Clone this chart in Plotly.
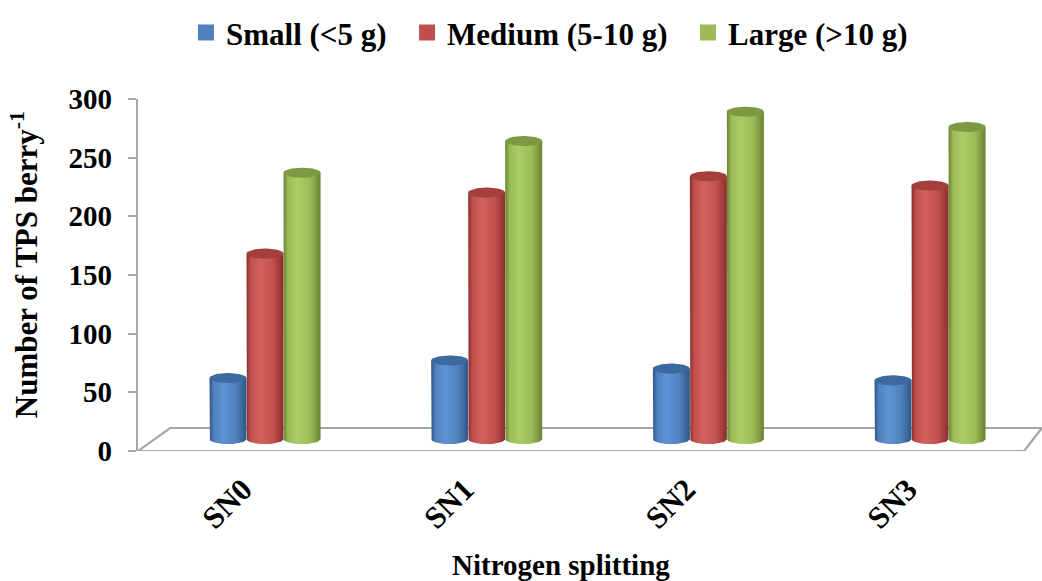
import numpy as np
import plotly.graph_objects as go

# ---- data ----
categories = ["SN0", "SN1", "SN2", "SN3"]
series_names = ["Small (<5 g)", "Medium (5-10 g)", "Large (>10 g)"]
small = [52, 67, 60, 50]
medium = [158, 210, 224, 216]
large = [227, 254, 279, 266]
y_ticks = [0, 50, 100, 150, 200, 250, 300]

series_values = [small, medium, large]

# ---- styling ----
FONT = "Liberation Serif"
base_cols = ["#4f81bd", "#c0504d", "#9bbb59"]
light_cols = ["#5e93d6", "#d2625e", "#abcd65"]
dark_cols = ["#2f5684", "#8a2f2d", "#67832f"]
cap_cols = ["#3c6aa0", "#a43f3c", "#7c9a42"]
AXIS_GREY = "#a6a6a6"

bar_w = 0.167          # width of one cylinder (x units)
cap_h = 4.3            # half-height of the elliptical caps (y units)
floor_mid = 10.2       # cylinders stand in the middle of the 3-D floor
floor_depth = 19.6     # y-offset of the back edge of the floor
x_lo, x_hi = -0.573, 3.505

fig = go.Figure()

# 3-D floor outline
fx = [x_lo, 3.424, x_hi, -0.428, x_lo]
fy = [0, 0, floor_depth, floor_depth, 0]
fig.add_trace(go.Scatter(x=fx, y=fy, mode="lines",
                         line=dict(color=AXIS_GREY, width=2.2),
                         hoverinfo="skip", showlegend=False))

t = np.linspace(0, np.pi, 30)
tt = np.linspace(0, 2 * np.pi, 60)
offsets = [-bar_w, 0.0, bar_w]
for s, vals in enumerate(series_values):
    scale = [[0, dark_cols[s]], [0.12, base_cols[s]], [0.38, light_cols[s]],
             [0.72, base_cols[s]], [1, dark_cols[s]]]
    for i, v in enumerate(vals):
        xc = i + offsets[s]
        xl, xr = xc - bar_w / 2, xc + bar_w / 2
        top = floor_mid + v
        # body: left side down, lower half-ellipse at the base, right side up
        bx = np.concatenate([[xl], xc - (bar_w / 2) * np.cos(t), [xr, xl]])
        by = np.concatenate([[top], floor_mid - cap_h * np.sin(t), [top, top]])
        fig.add_trace(go.Scatter(
            x=bx, y=by, mode="lines", fill="toself", line=dict(width=0),
            fillcolor=base_cols[s],
            fillgradient=dict(type="horizontal", colorscale=scale),
            hoverinfo="skip", showlegend=False))
        # top cap
        cx = xc + (bar_w / 2) * np.cos(tt)
        cy = top + cap_h * np.sin(tt)
        fig.add_trace(go.Scatter(
            x=cx, y=cy, mode="lines", fill="toself", line=dict(width=0),
            fillcolor=cap_cols[s], hoverinfo="skip", showlegend=False))

# legend entries (square swatches)
for s, name in enumerate(series_names):
    fig.add_trace(go.Scatter(x=[None], y=[None], mode="markers",
                             name=name + "\u00a0\u00a0",
                             marker=dict(symbol="square", size=16,
                                         color=base_cols[s])))

fig.update_layout(
    width=1042, height=581,
    margin=dict(l=138, r=0, t=99, b=130),
    paper_bgcolor="white", plot_bgcolor="white",
    font=dict(family=FONT, color="black", weight="bold"),
    showlegend=True,
    legend=dict(orientation="h", x=0.464, xanchor="center",
                y=0.99, yref="container", yanchor="top",
                itemwidth=30, itemsizing="trace",
                font=dict(family=FONT, size=31, color="black", weight="bold"),
                itemclick=False, itemdoubleclick=False),
    xaxis=dict(range=[x_lo, x_hi], tickmode="array",
               tickvals=list(range(len(categories))), ticktext=categories,
               tickangle=-45, showline=False, showgrid=False, zeroline=False,
               ticks="", ticklabelstandoff=13, ticklabelshift=-22,
               tickfont=dict(family=FONT, size=31, weight="bold", color="black")),
    yaxis=dict(range=[0, 300], tickmode="array", tickvals=y_ticks,
               showline=True, linecolor=AXIS_GREY, linewidth=2.2,
               ticks="outside", ticklen=8, tickcolor=AXIS_GREY, tickwidth=2,
               showgrid=False, zeroline=False, ticklabelstandoff=10,
               tickfont=dict(family=FONT, size=29, weight="bold", color="black")),
    annotations=[
        dict(text="Nitrogen splitting", xref="paper", yref="paper",
             x=0.468, y=-0.325, xanchor="center", yanchor="middle", showarrow=False,
             font=dict(family=FONT, size=29, color="black", weight="bold")),
        dict(text="Number of TPS berry<sup>-1</sup>", xref="paper", yref="paper",
             x=-0.126, y=0.528, xanchor="center", yanchor="middle", textangle=-90,
             showarrow=False,
             font=dict(family=FONT, size=31, color="black", weight="bold")),
    ],
)

fig.write_html("out.html")
